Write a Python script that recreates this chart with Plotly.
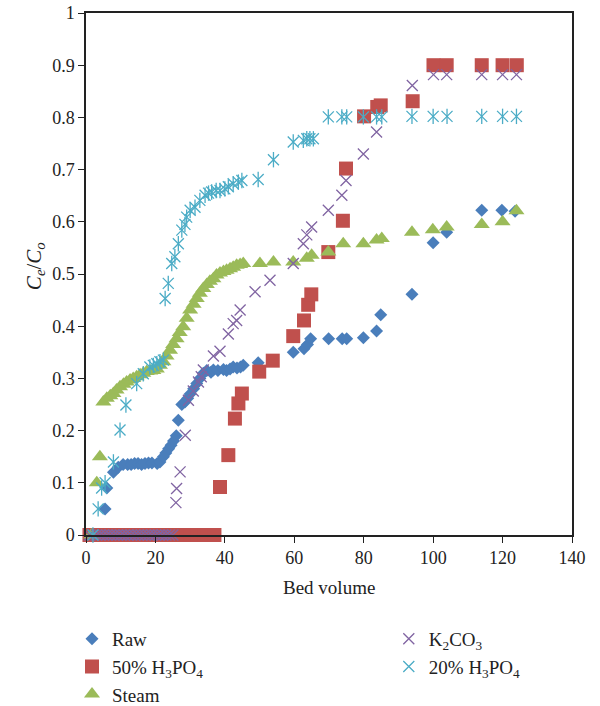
import plotly.graph_objects as go

# ---- data ----
raw_x = [1, 2, 3, 4, 5.5, 6, 7.9, 9.3, 10.7, 12, 13, 14, 15, 16, 17, 18, 19, 20.5, 21.3, 22.3,
         23, 23.8, 24.5, 25.2, 26, 26.6, 27.6, 28.5, 29.3, 30, 31, 31.9, 32.8, 33.8, 34.8, 36,
         36.7, 38, 39.6, 40.5, 41.5, 42.4, 43.5, 44.5, 45.3, 49.6, 59.7, 62.8, 63.8, 64.7,
         69.9, 73.8, 75.1, 79.9, 83.7, 84.9, 93.9, 100, 103.9, 114, 119.8, 123.6]
raw_y = [0, 0, 0, 0, 0.05, 0.09, 0.12, 0.13, 0.135, 0.135, 0.135, 0.137, 0.137, 0.135, 0.137,
         0.138, 0.138, 0.137, 0.14, 0.15, 0.157, 0.165, 0.172, 0.18, 0.19, 0.22, 0.25, 0.255,
         0.262, 0.27, 0.28, 0.29, 0.3, 0.31, 0.315, 0.312, 0.316, 0.315, 0.317, 0.315, 0.318,
         0.322, 0.32, 0.322, 0.325, 0.33, 0.35, 0.357, 0.365, 0.376, 0.376, 0.376, 0.376,
         0.378, 0.391, 0.422, 0.461, 0.56, 0.58, 0.622, 0.622, 0.62]

h50_x = [1, 2, 3, 4, 5, 6, 7, 8, 9, 10, 11, 12, 13, 14, 15, 16, 17, 18, 19, 20, 21, 22, 23,
         24, 25, 26, 27, 28, 29, 30, 31, 32, 33, 34, 35, 36, 37,
         38.6, 41, 42.9, 43.9, 44.9, 49.9, 53.8, 59.7, 62.8, 64, 64.9, 69.8, 74, 74.9, 80.1,
         83.9, 84.9, 94.1, 100.1, 103.9, 114, 120, 124.1]
h50_y = [0, 0, 0, 0, 0, 0, 0, 0, 0, 0, 0, 0, 0, 0, 0, 0, 0, 0, 0, 0, 0, 0, 0,
         0, 0, 0, 0, 0, 0, 0, 0, 0, 0, 0, 0, 0, 0,
         0.092, 0.153, 0.223, 0.252, 0.271, 0.313, 0.334, 0.381, 0.411, 0.441, 0.461, 0.542,
         0.602, 0.702, 0.802, 0.82, 0.823, 0.831, 0.9, 0.9, 0.9, 0.9, 0.9]

steam_x = [1.5, 3.1, 4, 5, 6, 7, 7.9, 8.8, 9.8, 10.8, 11.7, 12.7, 13.6, 14.6, 15.6, 16.5, 17.5,
           18.5, 19.4, 20.4, 21.3, 22.3, 23.2, 24.2, 25.1, 26.1, 27, 28, 29, 30, 31, 31.9,
           32.8, 33.8, 34.8, 35.7, 36.7, 37.6, 38.6, 39.6, 40.5, 41.5, 42.4, 43.4, 44.4, 45.3,
           50.1, 54, 59.7, 63.6, 65, 69.8, 74.1, 79.9, 83.7, 85.2, 93.9, 99.9, 103.9, 114, 120, 124]
steam_y = [0, 0.10, 0.15, 0.255, 0.262, 0.267, 0.271, 0.278, 0.284, 0.289, 0.293, 0.297, 0.3,
           0.303, 0.307, 0.31, 0.313, 0.314, 0.315, 0.318, 0.325, 0.332, 0.343, 0.354, 0.365,
           0.376, 0.388, 0.399, 0.415, 0.431, 0.442, 0.453, 0.463, 0.472, 0.48, 0.486, 0.491,
           0.498, 0.502, 0.505, 0.507, 0.51, 0.513, 0.517, 0.518, 0.52, 0.52, 0.523, 0.523,
           0.53, 0.536, 0.542, 0.558, 0.558, 0.565, 0.568, 0.58, 0.585, 0.59, 0.595, 0.6, 0.621]

k_x = [1, 2, 3, 4, 5, 6, 7, 8, 9, 10, 11, 12, 13, 14, 15, 16, 17, 18, 19, 20, 21, 22, 23, 24, 25,
       25.9, 26.1, 27.1, 28.6, 29.5, 30.9, 32.4, 33.2, 33.8, 36.7, 38.6, 41, 42.4, 43.4, 44.4,
       48.7, 53, 59.7, 62.6, 63.6, 65, 69.8, 73.7, 74.9, 79.9, 83.7, 94, 100.1, 103.9, 114, 120, 124]
k_y = [0, 0, 0, 0, 0, 0, 0, 0, 0, 0, 0, 0, 0, 0, 0, 0, 0, 0, 0, 0, 0, 0, 0, 0, 0,
       0.062, 0.089, 0.121, 0.191, 0.258, 0.276, 0.293, 0.303, 0.316, 0.343, 0.352, 0.385,
       0.405, 0.411, 0.431, 0.466, 0.488, 0.52, 0.558, 0.575, 0.59, 0.622, 0.651, 0.679, 0.73,
       0.772, 0.861, 0.882, 0.882, 0.882, 0.882, 0.882]

h20_x = [2, 3.5, 4.5, 5.5, 7.9, 9.8, 11.5, 14.6, 16.5, 18.4, 19.4, 20.4, 21.3, 22.3, 22.8, 23.7,
         24.7, 25.6, 26.6, 27.6, 28.5, 29, 30, 31.4, 32.8, 34.3, 35.3, 36.2, 37.5, 38.6, 40, 41,
         42.4, 43.9, 44.9, 49.6, 54, 59.7, 62.6, 63.6, 64.5, 65.5, 69.8, 73.7, 75.1, 79.9,
         83.7, 85.2, 93.9, 100, 104, 114, 120, 124]
h20_y = [0, 0.05, 0.09, 0.10, 0.14, 0.201, 0.249, 0.29, 0.309, 0.322, 0.325, 0.328, 0.332, 0.335,
         0.453, 0.482, 0.52, 0.533, 0.558, 0.584, 0.595, 0.609, 0.622, 0.628, 0.641, 0.651,
         0.655, 0.657, 0.66, 0.66, 0.663, 0.667, 0.673, 0.676, 0.679, 0.681, 0.719, 0.753,
         0.756, 0.759, 0.759, 0.759, 0.801, 0.801, 0.801, 0.801, 0.801, 0.801, 0.802, 0.802,
         0.802, 0.802, 0.802, 0.802]

x_ticks = [0, 20, 40, 60, 80, 100, 120, 140]
y_ticks = [0, 0.1, 0.2, 0.3, 0.4, 0.5, 0.6, 0.7, 0.8, 0.9, 1]
x_title = "Bed volume"
y_title = "<i>C</i><sub><i>e</i></sub>/<i>C</i><sub><i>o</i></sub>"

C_RAW = "#4A7EBB"
C_H50 = "#C0504D"
C_STEAM = "#9BBB59"
C_K = "#8064A2"
C_H20 = "#4BACC6"

FONT = "Liberation Serif"
TXT = "#222"

fig = go.Figure()
fig.add_trace(go.Scatter(x=raw_x, y=raw_y, mode="markers", name="Raw", cliponaxis=False,
                         marker=dict(symbol="diamond", size=10, color=C_RAW, line=dict(width=0)),
                         legend="legend"))
fig.add_trace(go.Scatter(x=h50_x, y=h50_y, mode="markers", name="50% H<sub>3</sub>PO<sub>4</sub>",
                         cliponaxis=False,
                         marker=dict(symbol="square", size=14, color=C_H50, line=dict(width=0)),
                         legend="legend"))
fig.add_trace(go.Scatter(x=steam_x, y=steam_y, mode="markers", name="Steam", cliponaxis=False,
                         marker=dict(symbol="triangle-up", size=14, color=C_STEAM, line=dict(width=0)),
                         legend="legend"))
fig.add_trace(go.Scatter(x=k_x, y=k_y, mode="markers", name="K<sub>2</sub>CO<sub>3</sub>",
                         cliponaxis=False,
                         marker=dict(symbol="x-thin-open", size=11, color=C_K,
                                     line=dict(width=1.3, color=C_K)),
                         legend="legend2"))
fig.add_trace(go.Scatter(x=h20_x, y=h20_y, mode="markers", name="20% H<sub>3</sub>PO<sub>4</sub>",
                         cliponaxis=False, legendgroup="h20",
                         marker=dict(symbol="x-thin-open", size=11, color=C_H20,
                                     line=dict(width=1.3, color=C_H20)),
                         legend="legend2"))
fig.add_trace(go.Scatter(x=h20_x, y=h20_y, mode="markers", name="20% H<sub>3</sub>PO<sub>4</sub>",
                         cliponaxis=False, legendgroup="h20", showlegend=False,
                         marker=dict(symbol="line-ns-open", size=11, color=C_H20,
                                     line=dict(width=1.3, color=C_H20)),
                         legend="legend2", hoverinfo="skip"))

axis_common = dict(showgrid=False, zeroline=False, showline=True, linecolor=TXT,
                   linewidth=1.5, mirror=True, ticks="outside", ticklen=6, tickwidth=1.2,
                   tickcolor=TXT, tickfont=dict(family=FONT, size=18, color=TXT),
                   automargin=False)

fig.update_layout(
    template="none",
    width=600, height=706,
    margin=dict(l=86, r=28, t=13, b=171, autoexpand=False),
    paper_bgcolor="white", plot_bgcolor="white",
    font=dict(family=FONT, color=TXT),
    xaxis=dict(range=[0, 140], tickvals=x_ticks, ticktext=[str(v) for v in x_ticks],
               **axis_common),
    yaxis=dict(range=[0, 1], tickvals=y_ticks,
               ticktext=["0", "0.1", "0.2", "0.3", "0.4", "0.5", "0.6", "0.7", "0.8", "0.9", "1"],
               **axis_common),
    legend=dict(xref="container", yref="container", x=0.12, xanchor="left",
                y=0.122, yanchor="top", orientation="v",
                font=dict(family=FONT, size=19, color=TXT), bgcolor="rgba(0,0,0,0)",
                borderwidth=0, tracegroupgap=0),
    legend2=dict(xref="container", yref="container", x=0.648, xanchor="left",
                 y=0.122, yanchor="top", orientation="v",
                 font=dict(family=FONT, size=19, color=TXT), bgcolor="rgba(0,0,0,0)",
                 borderwidth=0, tracegroupgap=0),
    annotations=[
        dict(text=x_title, xref="paper", yref="paper", x=0.5, y=-0.101,
             xanchor="center", yanchor="middle", showarrow=False,
             font=dict(family=FONT, size=19, color=TXT)),
        dict(text=y_title, xref="paper", yref="paper", x=-0.105, y=0.515,
             xanchor="center", yanchor="middle", showarrow=False, textangle=-90,
             font=dict(family=FONT, size=21, color=TXT)),
    ],
)

fig.write_html("out.html")
